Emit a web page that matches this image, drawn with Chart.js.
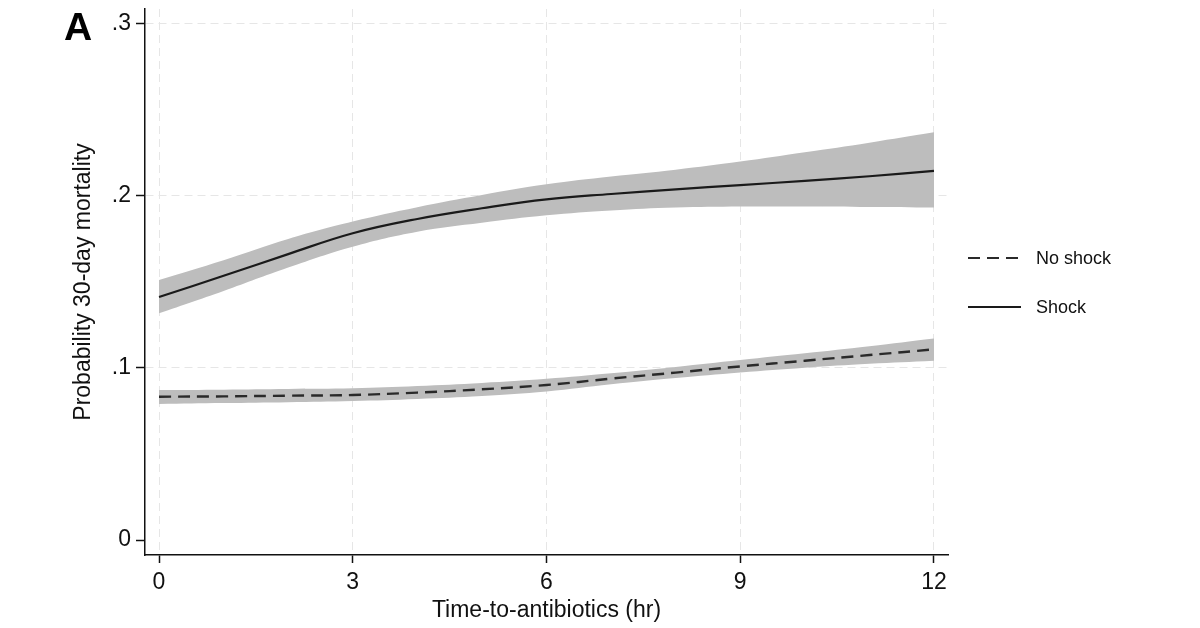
<!DOCTYPE html>
<html>
<head>
<meta charset="utf-8">
<script src="https://cdn.jsdelivr.net/npm/chart.js@4"></script>
<style>
  html, body { margin: 0; padding: 0; background: #fff; }
  #chart { display: block; }
</style>
</head>
<body>
<canvas id="chart" width="1200" height="628"></canvas>
<script>
// hours after triage
var hours = [0, 1, 2, 3, 4, 5, 6, 7, 8, 9, 10, 11, 12];

// predicted probability of 30-day mortality, with 95% band
var shockMean = [0.1411, 0.1534, 0.1660, 0.1781, 0.1864, 0.1926, 0.1978, 0.2009, 0.2036, 0.2061, 0.2085, 0.2112, 0.2143];
var shockHi   = [0.1510, 0.1625, 0.1748, 0.1849, 0.1932, 0.2003, 0.2065, 0.2110, 0.2150, 0.2197, 0.2251, 0.2307, 0.2367];
var shockLo   = [0.1316, 0.1446, 0.1582, 0.1703, 0.1790, 0.1842, 0.1885, 0.1913, 0.1930, 0.1936, 0.1936, 0.1933, 0.1930];

var noShockMean = [0.0832, 0.0834, 0.0838, 0.0842, 0.0856, 0.0875, 0.0900, 0.0937, 0.0972, 0.1008, 0.1041, 0.1074, 0.1107];
var noShockHi   = [0.0871, 0.0873, 0.0877, 0.0881, 0.0894, 0.0912, 0.0936, 0.0968, 0.1005, 0.1045, 0.1084, 0.1125, 0.1170];
var noShockLo   = [0.0790, 0.0795, 0.0800, 0.0807, 0.0819, 0.0836, 0.0862, 0.0904, 0.0940, 0.0972, 0.1000, 0.1023, 0.1041];

var xTicks = [0, 3, 6, 9, 12];
var yTicks = [0, 0.1, 0.2, 0.3];
var yTickLabels = ['0', '.1', '.2', '.3'];
var seriesLabels = ['Shock', 'No shock'];

function pts(ys) {
  return hours.map(function(h, i) { return { x: h, y: ys[i] }; });
}

var band = '#bdbdbd';
var ink = '#1a1a1a';
var font = 'Liberation Sans, Arial, Helvetica, sans-serif';

// draws the legend at the right and the panel letter
var extras = {
  id: 'extras',
  afterDraw: function(chart) {
    var ctx = chart.ctx;
    ctx.save();
    ctx.font = 'bold 39px ' + font;
    ctx.fillStyle = '#000';
    ctx.textBaseline = 'alphabetic';
    ctx.textAlign = 'left';
    ctx.fillText('A', 64, 40);

    var items = [chart.data.datasets[1], chart.data.datasets[0]];
    var ys = [258, 307];
    ctx.font = '18px ' + font;
    ctx.textBaseline = 'middle';
    items.forEach(function(ds, i) {
      ctx.beginPath();
      ctx.setLineDash(ds.borderDash || []);
      ctx.lineWidth = 2;
      ctx.strokeStyle = ds.borderColor;
      ctx.moveTo(968, ys[i]);
      ctx.lineTo(1021, ys[i]);
      ctx.stroke();
      ctx.setLineDash([]);
      ctx.fillStyle = '#111';
      ctx.fillText(ds.label, 1036, ys[i] + 1);
    });
    ctx.restore();
  }
};

function noPad(s) {
  s.paddingTop = 0;
  s.paddingBottom = 0;
}

new Chart(document.getElementById('chart').getContext('2d'), {
  type: 'line',
  data: {
    datasets: [
      { label: seriesLabels[0], data: pts(shockMean), borderColor: ink, borderWidth: 2.2, pointRadius: 0, fill: false },
      { label: seriesLabels[1], data: pts(noShockMean), borderColor: '#2a2a2a', borderWidth: 2.4, borderDash: [12, 7], pointRadius: 0, fill: false },
      { label: 'shock hi', data: pts(shockHi), borderWidth: 0, pointRadius: 0, backgroundColor: band, fill: '+1' },
      { label: 'shock lo', data: pts(shockLo), borderWidth: 0, pointRadius: 0, fill: false },
      { label: 'no shock hi', data: pts(noShockHi), borderWidth: 0, pointRadius: 0, backgroundColor: band, fill: '+1' },
      { label: 'no shock lo', data: pts(noShockLo), borderWidth: 0, pointRadius: 0, fill: false }
    ]
  },
  options: {
    responsive: false,
    animation: false,
    tension: 0.4,
    layout: { padding: { left: 0, top: 9, right: 252, bottom: 0 } },
    plugins: {
      legend: { display: false },
      tooltip: { enabled: false }
    },
    scales: {
      x: {
        type: 'linear',
        min: -0.217,
        max: 12.217,
        afterBuildTicks: function(s) { s.ticks = xTicks.map(function(v) { return { value: v }; }); },
        afterFit: function(s) { s.height = 73; },
        grid: { color: '#e6e6e6', lineWidth: 1, tickColor: '#111', tickWidth: 1.5, tickLength: 8, tickBorderDash: [] },
        border: { display: true, color: '#111', width: 1.5, dash: [8, 5] },
        ticks: { color: '#111', padding: 6, font: { family: font, size: 23 }, maxRotation: 0 },
        title: { display: true, text: 'Time-to-antibiotics (hr)', color: '#111', font: { family: font, size: 23 }, padding: { top: 0, bottom: 4 } }
      },
      y: {
        type: 'linear',
        min: -0.0087,
        max: 0.3083,
        afterBuildTicks: function(s) { s.ticks = yTicks.map(function(v) { return { value: v }; }); },
        afterFit: function(s) { s.width = 145; noPad(s); },
        grid: {
          color: function(c) { return c.tick && c.tick.value === 0 ? 'rgba(0,0,0,0)' : '#e6e6e6'; },
          lineWidth: 1, tickColor: '#111', tickWidth: 1.5, tickLength: 9, tickBorderDash: []
        },
        border: { display: true, color: '#111', width: 1.5, dash: [8, 5] },
        ticks: {
          color: '#111', padding: 5, font: { family: font, size: 23 },
          callback: function(v) { var i = yTicks.indexOf(v); return i < 0 ? '' : yTickLabels[i]; }
        },
        title: { display: true, text: 'Probability 30-day mortality', color: '#111', font: { family: font, size: 23 }, padding: { top: 70, bottom: 0 } }
      }
    }
  },
  plugins: [extras]
});
</script>
</body>
</html>
